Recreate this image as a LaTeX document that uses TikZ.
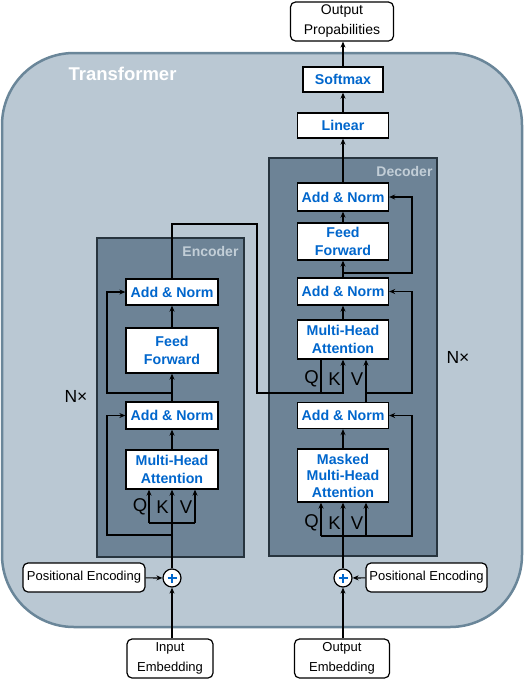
\documentclass[tikz,border=0pt]{standalone}
\usepackage{fontspec}
\setmainfont{Liberation Sans}
\usetikzlibrary{arrows.meta}
\definecolor{outerfill}{HTML}{BAC8D3}
\definecolor{outerdraw}{HTML}{6A8699}
\definecolor{blockfill}{HTML}{6D8396}
\definecolor{blockdraw}{HTML}{27343E}
\definecolor{blocklabel}{HTML}{C2CED7}
\definecolor{bluetext}{HTML}{0066CC}
\tikzset{
  every picture/.style={x=1pt,y=-1pt},
  layer/.style={draw=black,line width=1.3pt,fill=white,inner sep=0pt,align=center,
    font=\fontsize{14.2}{17.5}\selectfont\bfseries,text=bluetext},
  plain/.style={draw=black,line width=1.2pt,fill=white,rounded corners=5pt,inner sep=0pt,
    align=center,font=\fontsize{13}{20}\selectfont},
  conn/.style={line width=1.2pt,draw=black},
  arr/.style={conn,-{Stealth[length=6pt,width=5pt]}},
  qkv/.style={font=\fontsize{18.5}{18.5}\selectfont},
  nx/.style={font=\fontsize{17.5}{17.5}\selectfont},
  blocklbl/.style={font=\fontsize{14}{14}\selectfont\bfseries,text=blocklabel,anchor=east},
  pluscircle/.style={circle,draw=black,line width=1.2pt,fill=white,minimum size=18pt,inner sep=0pt}
}
\begin{document}
\begin{tikzpicture}
\useasboundingbox (0,0) rectangle (525,681);
% outer transformer
\draw[line width=2.5pt,draw=outerdraw,fill=outerfill,rounded corners=72pt] (2,53) rectangle (522,627);
\node[anchor=west,font=\fontsize{18.5}{19}\selectfont\bfseries,text=white] (ttl) at (65,74) {Transformer};
% encoder / decoder blocks
\draw[line width=1.3pt,draw=blockdraw,fill=blockfill] (97,238) rectangle (244,557);
\draw[line width=1.3pt,draw=blockdraw,fill=blockfill] (269,158) rectangle (437,556);
\node[blocklbl] (enclbl) at (242,251) {Encoder};
\node[blocklbl] (declbl) at (436,171) {Decoder};
\node[nx] (nxl) at (76,396) {N×};
\node[nx] (nxr) at (458,357) {N×};

% encoder nodes
\node[layer,minimum width=92pt,minimum height=26pt] (eAN2) at (172,292) {Add \& Norm};
\node[layer,minimum width=92pt,minimum height=45pt] (eFF) at (172,350.5) {Feed\\Forward};
\node[layer,minimum width=92pt,minimum height=27pt] (eAN1) at (172,415.5) {Add \& Norm};
\node[layer,minimum width=92pt,minimum height=39pt] (eMHA) at (172,469.5) {Multi-Head\\Attention};

% decoder nodes
\node[layer,minimum width=91pt,minimum height=28pt] (dAN3) at (343,197) {Add \& Norm};
\node[layer,minimum width=91pt,minimum height=37pt] (dFF) at (343,241.5) {Feed\\Forward};
\node[layer,minimum width=91pt,minimum height=27pt] (dAN2) at (343,291.5) {Add \& Norm};
\node[layer,minimum width=91pt,minimum height=39pt] (dMHA) at (343,339.5) {Multi-Head\\Attention};
\node[layer,minimum width=91pt,minimum height=26pt] (dAN1) at (343,415.5) {Add \& Norm};
\node[layer,minimum width=91pt,minimum height=53pt,font=\fontsize{14.2}{16.5}\selectfont\bfseries] (dMMHA) at (343,475.5) {Masked\\Multi-Head\\Attention};

% top nodes
\node[layer,minimum width=91pt,minimum height=25pt] (lin) at (343,125.5) {Linear};
\node[layer,minimum width=80pt,minimum height=25pt] (soft) at (343,79.5) {Softmax};
\node[plain,minimum width=103pt,minimum height=39pt,font=\fontsize{14}{20}\selectfont] (outp) at (342,21.5) {Output\\Propabilities};

% bottom nodes
\node[pluscircle] (plusL) at (172,578) {};
\node[pluscircle] (plusR) at (343,578) {};
\draw[line width=2.4pt,draw=bluetext] ([xshift=-4.5pt]plusL.center) -- ([xshift=4.5pt]plusL.center)
  ([yshift=-4.5pt]plusL.center) -- ([yshift=4.5pt]plusL.center);
\draw[line width=2.4pt,draw=bluetext] ([xshift=-4.5pt]plusR.center) -- ([xshift=4.5pt]plusR.center)
  ([yshift=-4.5pt]plusR.center) -- ([yshift=4.5pt]plusR.center);
\node[plain,minimum width=122pt,minimum height=29pt] (peL) at (84,577.5) {Positional Encoding};
\node[plain,minimum width=121pt,minimum height=29pt] (peR) at (426.5,577.5) {Positional Encoding};
\node[plain,minimum width=86pt,minimum height=39pt] (inE) at (170,658.5) {Input\\Embedding};
\node[plain,minimum width=95pt,minimum height=39pt] (outE) at (342,658.5) {Output\\Embedding};

% bottom connectors
\draw[arr] (peL) -- (plusL);
\draw[arr] (peR) -- (plusR);
\draw[arr] (inE.north -| plusL) -- (plusL);
\draw[arr] (outE.north -| plusR) -- (plusR);

% encoder connectors
\coordinate (eQ) at (149,523);
\coordinate (eV) at (195,523);
\draw[arr] (plusL.north) -- (eMHA.south);
\draw[conn] (eQ) -- (eV);
\draw[arr] (eQ) -- (eQ |- eMHA.south);
\draw[arr] (eV) -- (eV |- eMHA.south);
\node[qkv] (eQl) at (140,507) {Q};
\node[qkv] (eKl) at (162.5,507) {K};
\node[qkv] (eVl) at (186,507) {V};
\draw[arr] (172,535) -| (107,415.5) -- (eAN1.west);
\draw[arr] (eMHA) -- (eAN1);
\draw[arr] (eAN1) -- (eFF);
\draw[arr] (eFF) -- (eAN2);
\draw[arr] (172,393) -| (107,292) -- (eAN2.west);
% encoder output to decoder
\coordinate (dQ) at (321,393);
\draw[arr] (eAN2.north) -- (172,224) -- (257,224) -- (257,393) -- (343,393) -- (dMHA.south);
\draw[conn] (dQ) -- (dQ |- dMHA.south);
\node[qkv] (dQl) at (311.5,379) {Q};
\node[qkv] (dKl) at (334.5,379) {K};
\node[qkv] (dVl) at (357,379) {V};

% decoder connectors
\coordinate (dQb) at (321,536);
\coordinate (dVb) at (366,536);
\draw[arr] (plusR.north) -- (dMMHA.south);
\draw[arr] (dQb) -- (dQb |- dMMHA.south);
\draw[arr] (dVb) -- (dVb |- dMMHA.south);
\draw[arr] (dQb) -- (412,536) -- (412,415.5) -- (dAN1.east);
\node[qkv] (dQl2) at (311.5,523) {Q};
\node[qkv] (dKl2) at (334.5,523) {K};
\node[qkv] (dVl2) at (357,523) {V};
\draw[arr] (dMMHA) -- (dAN1);
\draw[arr] (dAN1.north -| dVb) -- (dMHA.south -| dVb);
\draw[arr] (366,393) -- (412,393) -- (412,291.5) -- (dAN2.east);
\draw[arr] (dMHA) -- (dAN2);
\draw[arr] (dAN2) -- (dFF);
\draw[arr] (343,273) -- (412,273) -- (412,197) -- (dAN3.east);
\draw[arr] (dFF) -- (dAN3);
\draw[arr] (dAN3) -- (lin);
\draw[arr] (lin) -- (soft);
\draw[arr] (soft) -- (outp.south -| soft);
\end{tikzpicture}
\end{document}
